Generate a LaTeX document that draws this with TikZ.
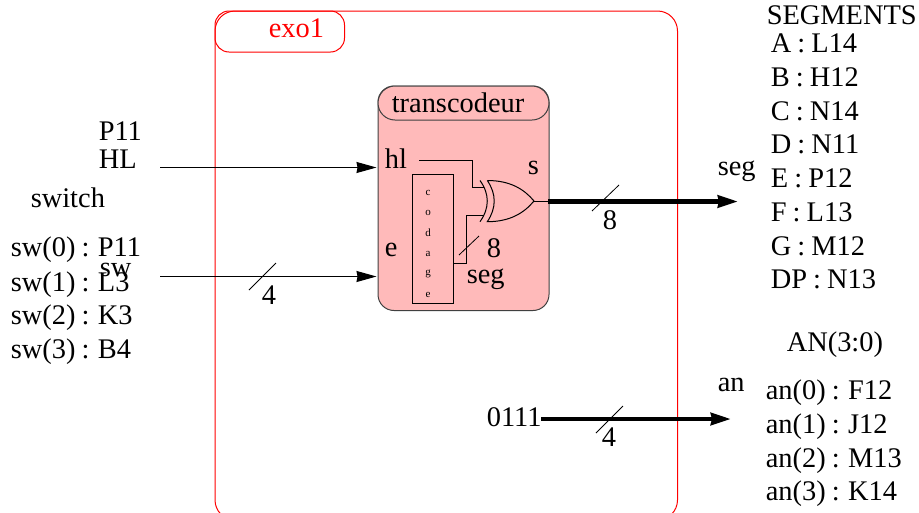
\documentclass[tikz,border=0pt]{standalone}
\usepackage{fontspec}
\setmainfont[WordSpace=0.86]{Liberation Serif}
\usetikzlibrary{arrows.meta}

\begin{document}
\begin{tikzpicture}
 [ x=1pt
 , y=-1pt
 , line width=1pt
 , lbl/.style={anchor=base west, inner sep=0pt, xshift=-0.7pt, font=\fontsize{28.4}{30}\selectfont}
 , tiny letter/.style={anchor=base, inner sep=0pt, font=\fontsize{11}{12}\selectfont}
 , slash/.style={line width=0.8pt}
 , bus/.style={line width=4.5pt, -{Stealth[length=20pt, width=12pt, inset=1pt]}}
 , feed/.style={line width=1pt, shorten >=1pt, -{Stealth[length=20pt, width=11pt, inset=1pt]}}
 , outer box/.style={draw=red, rounded corners=20pt, anchor=north west, inner sep=0pt}
 , outer tab/.style={draw=red, rounded corners=14pt, anchor=north west, inner sep=0pt}
 , block/.style={draw=black!75, fill=pink1, rounded corners=16pt, anchor=north west, inner sep=0pt}
 , titlebar/.style={block, rounded corners=17pt}
 , coder/.style={draw=black, fill=pink1, anchor=north west, inner sep=0pt}
 ]
  \definecolor{pink1}{RGB}{255,186,186}
  \path [use as bounding box, clip] (0,0) rectangle (919,512);

  % outer entity
  \node (exo) [outer box, minimum width=462.5pt, minimum height=509pt] at (214.5,10.5) {};
  \node (exoTab) [outer tab, minimum width=129.5pt, minimum height=41pt] at (214.5,10.5) {};
  \node (exoName) [lbl, text=red] at (269,37) {exo1};

  % component
  \node (transcodeur) [block, minimum width=171pt, minimum height=224.5pt] at (377.5,85.5) {};
  \node (transTitle) [titlebar, minimum width=171pt, minimum height=34pt] at (377.5,85.5) {};
  \node (transName) [lbl] at (392,112) {transcodeur};
  \node (hlPort) [lbl] at (385,168) {hl};
  \node (ePort) [lbl] at (385,256) {e};
  \node (sPort) [lbl] at (528,174) {s};
  \node (codage) [coder, minimum width=41pt, minimum height=129pt] at (412,174) {};
  \node (codC) [tiny letter] at (428,195) {c};
  \node (codO) [tiny letter] at (428,215) {o};
  \node (codD) [tiny letter] at (428,236) {d};
  \node (codA) [tiny letter] at (428,256) {a};
  \node (codG) [tiny letter] at (428,275) {g};
  \node (codE) [tiny letter] at (428,297) {e};

  % xor gate
  \coordinate (gateTop) at (487.3,180.5);
  \coordinate (gateBot) at (487.3,221.7);
  \coordinate (gateOut) at (534,201);
  \coordinate (gateInA) at (484,187.7);
  \coordinate (gateInB) at (484,215);
  \draw (gateTop) .. controls (510,180.5) and (524,189) .. (gateOut)
        .. controls (524,213) and (510,221.7) .. (gateBot)
        .. controls (496.5,208) and (496.5,194) .. (gateTop);
  \draw (480,180.5) .. controls (489.7,194) and (489.7,208) .. (480,221.7);

  % internal wires
  \coordinate (hlEnd) at (419,160);
  \coordinate (hlBend) at (472.5,160);
  \coordinate (segBend) at (466.5,263);
  \draw (hlEnd) -- (hlBend) -- (hlBend |- gateInA) -- (gateInA);
  \draw (codage.east |- segBend) -- (segBend) -- (segBend |- gateInB) -- (gateInB);
  \coordinate (innerA) at (459,255);
  \coordinate (innerB) at (479,236);
  \draw [slash] (innerA) -- (innerB);
  \node (innerWidth) [lbl] at (487,257) {8};
  \node (innerSeg) [lbl] at (467,283) {seg};

  % inputs
  \coordinate (hlSrc) at (160,167.5);
  \coordinate (swSrc) at (160,276.5);
  \draw [feed] (hlSrc) -- (hlSrc -| transcodeur.west);
  \draw [feed] (swSrc) -- (swSrc -| transcodeur.west);
  \coordinate (swSlashA) at (249,290);
  \coordinate (swSlashB) at (276,263);
  \draw [slash] (swSlashA) -- (swSlashB);
  \node (swWidth) [lbl] at (262,304) {4};
  \node (p11Lbl) [lbl] at (99,140) {P11};
  \node (hlLbl) [lbl] at (99,168) {HL};
  \node (switchLbl) [lbl] at (31,207) {switch};
  \node (sw0) [lbl] at (11,256) {sw(0) : P11};
  \node (sw1) [lbl] at (11,291) {sw(1) : L3};
  \node (swLbl) [lbl] at (100,276) {sw};
  \node (sw2) [lbl] at (11,324) {sw(2) : K3};
  \node (sw3) [lbl] at (11,358) {sw(3) : B4};

  % seg output
  \coordinate (segStart) at (548,201.5);
  \coordinate (segTip) at (738,201.5);
  \draw (gateOut) -- (segStart |- gateOut);
  \draw [bus] (segStart) -- (segTip);
  \coordinate (segSlashA) at (592,211);
  \coordinate (segSlashB) at (619,185);
  \draw [slash] (segSlashA) -- (segSlashB);
  \node (segWidth) [lbl] at (603,229) {8};
  \node (segLbl) [lbl] at (718,175) {seg};

  % an output
  \node (zeroLbl) [lbl] at (487,426) {0111};
  \coordinate (anStart) at (541,419);
  \coordinate (anTip) at (731,419);
  \draw [bus] (anStart) -- (anTip);
  \coordinate (anSlashA) at (596,433);
  \coordinate (anSlashB) at (623,406);
  \draw [slash] (anSlashA) -- (anSlashB);
  \node (anWidth) [lbl] at (602,446) {4};
  \node (anLbl) [lbl] at (718,391) {an};

  % pin lists
  \node (segTitle) [lbl] at (767,24) {SEGMENTS};
  \node (pinA) [lbl] at (771,52) {A : L14};
  \node (pinB) [lbl] at (771,86) {B : H12};
  \node (pinC) [lbl] at (771,120) {C : N14};
  \node (pinD) [lbl] at (771,153) {D : N11};
  \node (pinE) [lbl] at (771,187) {E : P12};
  \node (pinF) [lbl] at (771,221) {F : L13};
  \node (pinG) [lbl] at (771,255) {G : M12};
  \node (pinDP) [lbl] at (771,288) {DP : N13};
  \node (anTitle) [lbl] at (787,351) {AN(3:0)};
  \node (an0) [lbl] at (766,399) {an(0) : F12};
  \node (an1) [lbl] at (766,433) {an(1) : J12};
  \node (an2) [lbl] at (766,467) {an(2) : M13};
  \node (an3) [lbl] at (766,500) {an(3) : K14};
\end{tikzpicture}
\end{document}
